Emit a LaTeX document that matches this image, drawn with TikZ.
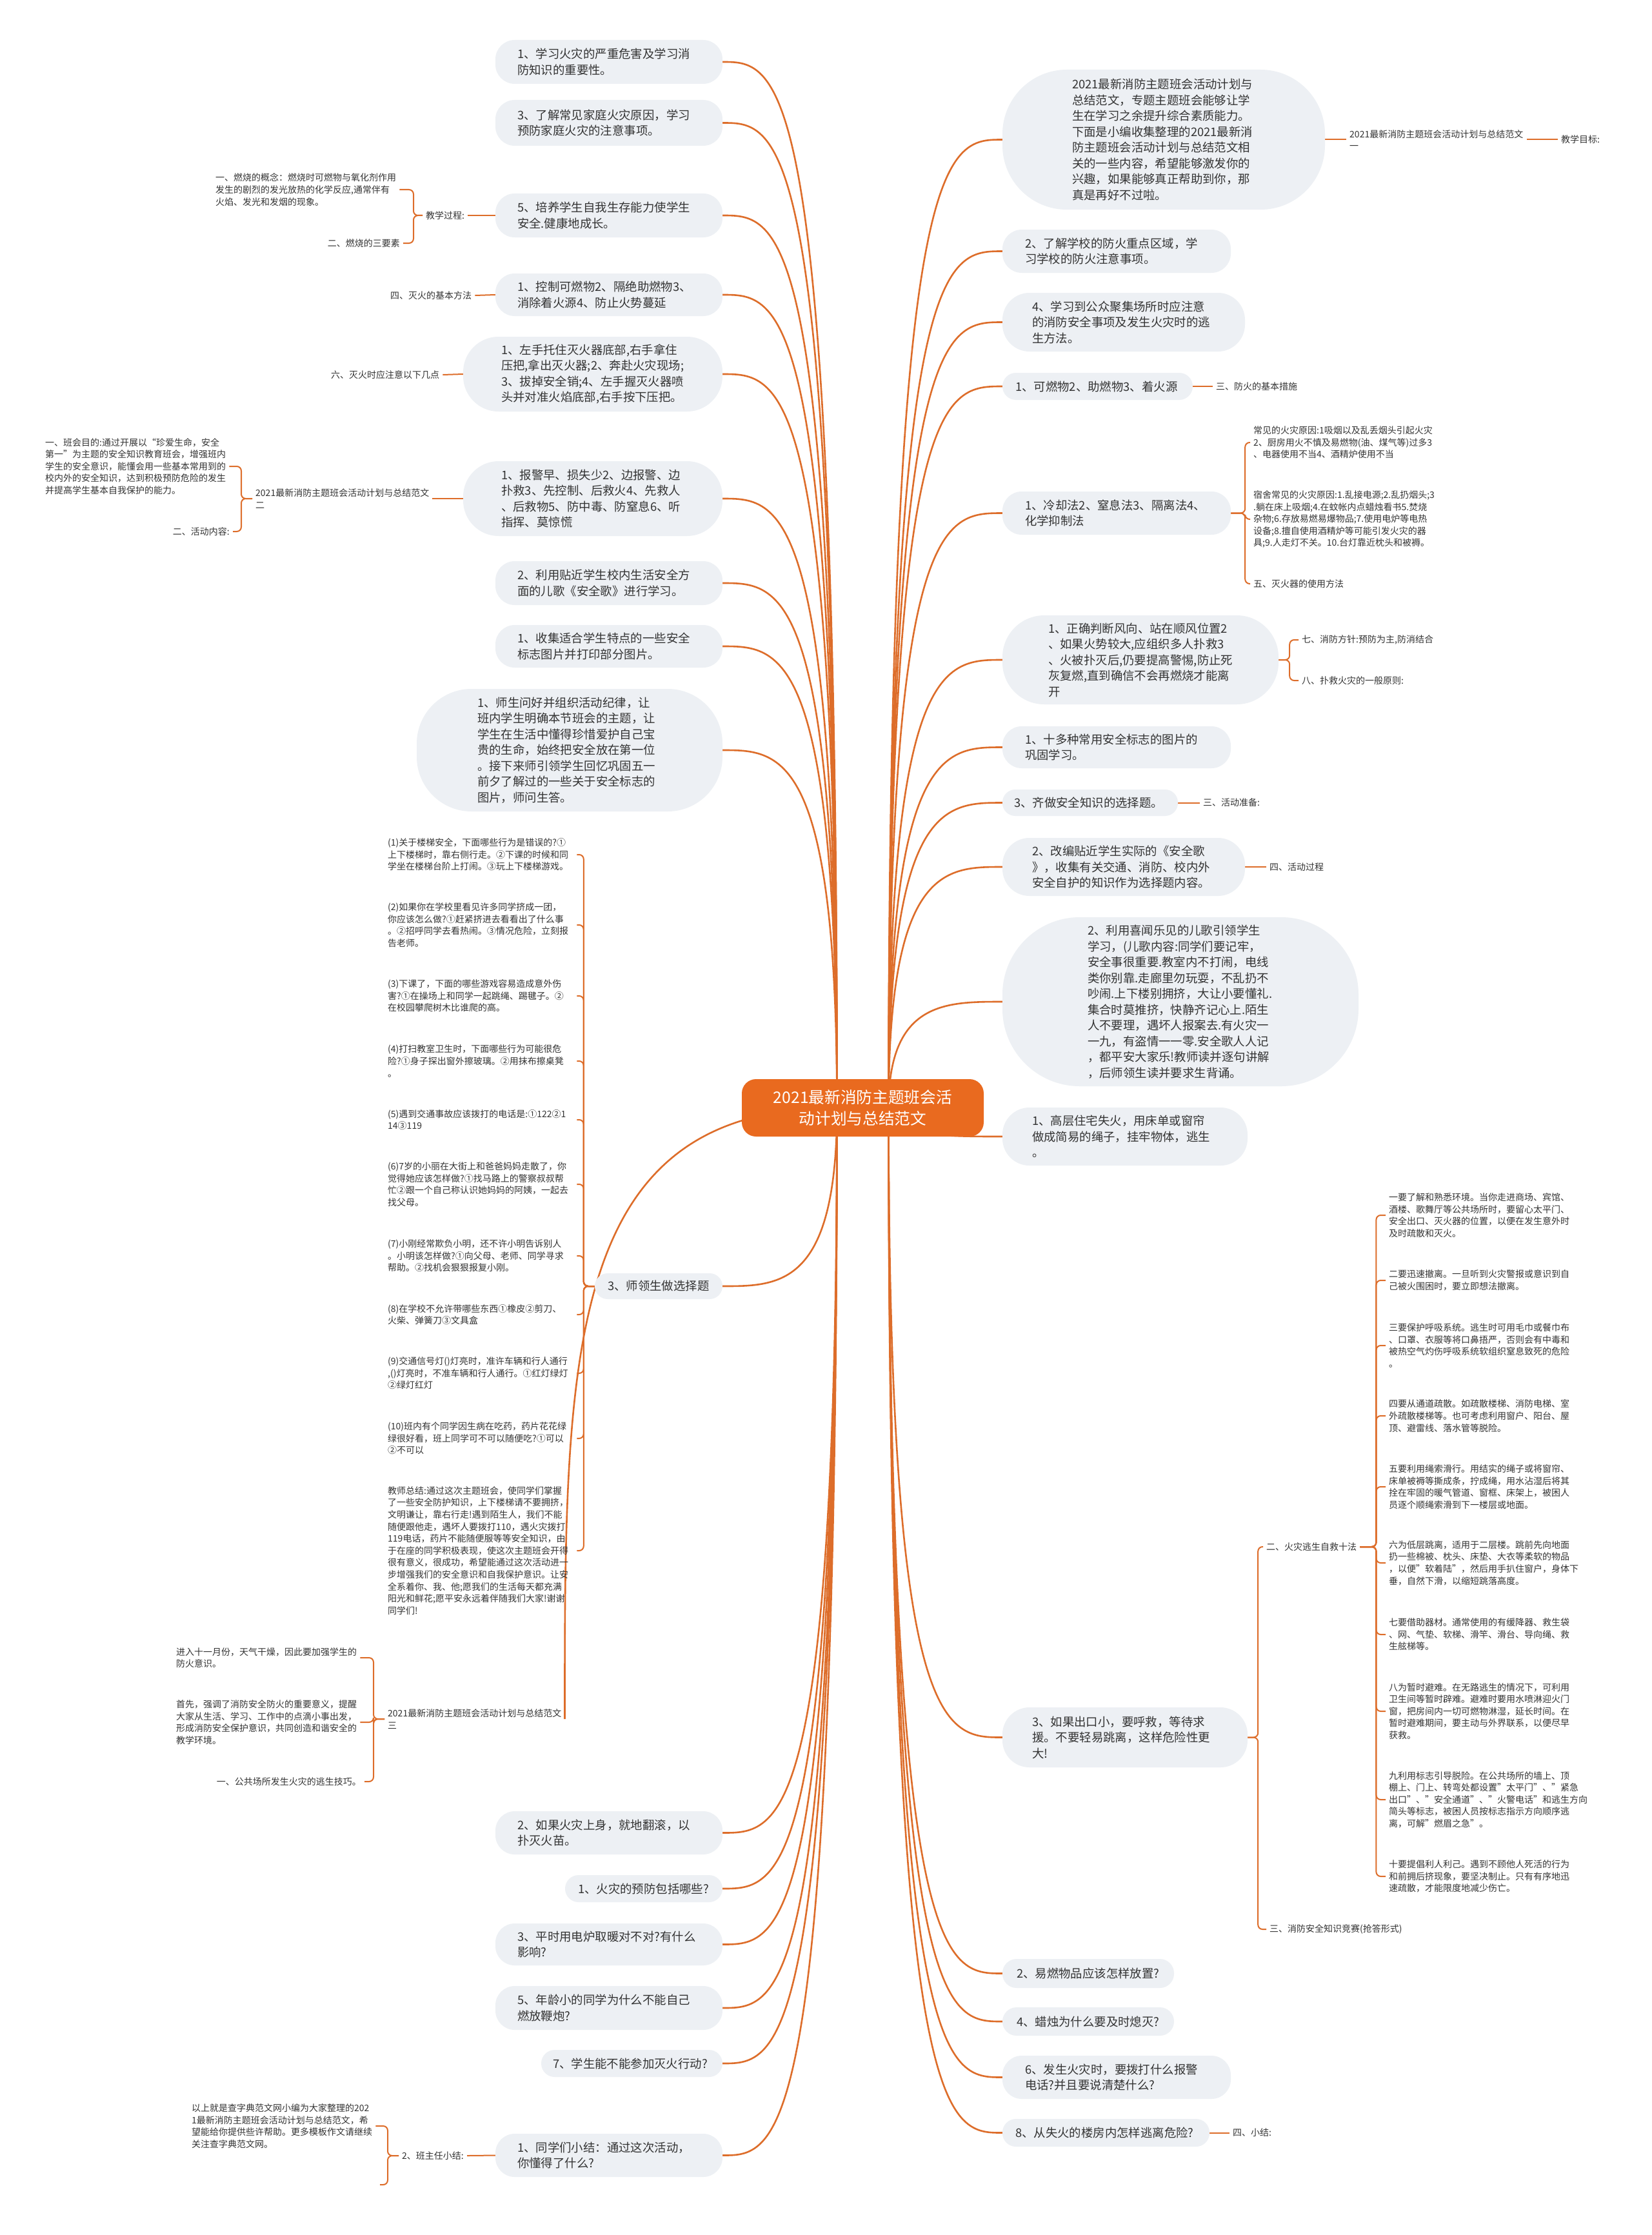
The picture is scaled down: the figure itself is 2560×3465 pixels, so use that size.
\documentclass[tikz,border=0pt]{standalone}
\usepackage{fontspec}
\setmainfont{Noto Sans CJK SC}
\usetikzlibrary{calc}
\definecolor{bubfill}{HTML}{EDF0F4}
\definecolor{lnc}{HTML}{DD6D2A}
\definecolor{rootc}{HTML}{E96A1F}
\definecolor{txt}{HTML}{333333}
\newcommand\fbub{\fontsize{18.4}{24.5}\selectfont}
\newcommand\fsm{\fontsize{14}{18.6}\selectfont}
\newcommand\froot{\fontsize{24.7}{33}\selectfont}
\newcommand\mylink[2]{\draw[conn] (#1) .. controls (#1 |- #2) and ($(#1 |- #2)!0.5!(#2)$) .. (#2);}
\pgfdeclarelayer{bg}
\pgfsetlayers{bg,main}
\tikzset{
  bub/.style={fill=bubfill, rounded corners=#1, align=left, font=\fbub, text=txt, inner ysep=0pt},
  bub/.default=30pt,
  bx/.style n args={4}{minimum width=#1pt, minimum height=#2pt, text width=#3pt, inner xsep=#4pt},
  lab/.style={font=\fsm, text=txt, align=left, inner xsep=5pt, inner ysep=2pt},
  conn/.style={draw=lnc, line width=2.6pt},
  leaf/.style={draw=lnc, line width=2pt, rounded corners=7pt},
  rootn/.style={fill=rootc, rounded corners=22pt, text=white, font=\froot, align=center, minimum width=375pt, minimum height=89pt}
}
\begin{document}
\begin{tikzpicture}[x=1pt,y=-1pt]
\useasboundingbox (0,0) rectangle (2560,3465);

% root
\node[rootn] (root) at (1337.5,1717.5) {2021最新消防主题班会活\\动计划与总结范文};
\coordinate (sL) at ($(root.center)+(-40,0)$);
\coordinate (sR) at ($(root.center)+(40,0)$);

% ---------- left bubbles ----------
\node[bub=30pt, bx={352}{68}{284}{34}] (L1) at (944,96) {1、学习火灾的严重危害及学习消\\防知识的重要性。};
\node[bub=30pt, bx={352}{71}{284}{34}] (L2) at (944,190.5) {3、了解常见家庭火灾原因，学习\\预防家庭火灾的注意事项。};
\node[bub=30pt, bx={352}{68}{284}{34}] (L3) at (944,334) {5、培养学生自我生存能力使学生\\安全.健康地成长。};
\node[bub=30pt, bx={352}{66}{284}{34}] (L4) at (944,457) {1、控制可燃物2、隔绝助燃物3、\\消除着火源4、防止火势蔓延};
\node[bub=55pt, bx={402}{116}{284}{59}] (L5) at (919,580) {1、左手托住灭火器底部,右手拿住\\压把,拿出灭火器;2、奔赴火灾现场;\\3、拔掉安全销;4、左手握灭火器喷\\头并对准火焰底部,右手按下压把。};
\node[bub=55pt, bx={402}{116}{284}{59}] (L6) at (919,773) {1、报警早、损失少2、边报警、边\\扑救3、先控制、后救火4、先救人\\、后救物5、防中毒、防窒息6、听\\指挥、莫惊慌};
\node[bub=30pt, bx={352}{68}{284}{34}] (L7) at (944,904) {2、利用贴近学生校内生活安全方\\面的儿歌《安全歌》进行学习。};
\node[bub=30pt, bx={352}{66}{284}{34}] (L8) at (944,1002) {1、收集适合学生特点的一些安全\\标志图片并打印部分图片。};
\node[bub=85pt, bx={474}{190}{286}{94}] (L9) at (883,1163) {1、师生问好并组织活动纪律，让\\班内学生明确本节班会的主题，让\\学生在生活中懂得珍惜爱护自己宝\\贵的生命，始终把安全放在第一位\\。接下来师引领学生回忆巩固五一\\前夕了解过的一些关于安全标志的\\图片，师问生答。};
\node[bub=20pt, bx={198}{40}{158}{20}] (L10) at (1021,1994) {3、师领生做选择题};
\node[bub=30pt, bx={352}{67}{284}{34}] (L12) at (944,2841.5) {2、如果火灾上身，就地翻滚，以\\扑灭火苗。};
\node[bub=21pt, bx={244}{42}{204}{20}] (L13) at (998,2928) {1、火灾的预防包括哪些?};
\node[bub=30pt, bx={352}{65}{284}{34}] (L14) at (944,3014.5) {3、平时用电炉取暖对不对?有什么\\影响?};
\node[bub=30pt, bx={352}{68}{284}{34}] (L15) at (944,3113) {5、年龄小的同学为什么不能自己\\燃放鞭炮?};
\node[bub=21pt, bx={281}{42}{245}{18}] (L16) at (979.5,3199) {7、学生能不能参加灭火行动?};
\node[bub=30pt, bx={352}{67}{284}{34}] (L17) at (944,3341.5) {1、同学们小结：通过这次活动，\\你懂得了什么?};

% ---------- right bubbles ----------
\node[bub=100pt, bx={500}{217}{284}{108}] (R1) at (1804,216.5) {2021最新消防主题班会活动计划与\\总结范文，专题主题班会能够让学\\生在学习之余提升综合素质能力。\\下面是小编收集整理的2021最新消\\防主题班会活动计划与总结范文相\\关的一些内容，希望能够激发你的\\兴趣，如果能够真正帮助到你，那\\真是再好不过啦。};
\node[bub=30pt, bx={354}{67}{284}{35}] (R2) at (1731,389.5) {2、了解学校的防火重点区域，学\\习学校的防火注意事项。};
\node[bub=42pt, bx={376}{91}{284}{46}] (R3) at (1742,499.5) {4、学习到公众聚集场所时应注意\\的消防安全事项及发生火灾时的逃\\生方法。};
\node[bub=21pt, bx={295}{42}{255}{20}] (R4) at (1701.5,599) {1、可燃物2、助燃物3、着火源};
\node[bub=30pt, bx={354}{67}{284}{35}] (R5) at (1731,795.5) {1、冷却法2、窒息法3、隔离法4、\\化学抑制法};
\node[bub=65pt, bx={428}{138}{286}{71}] (R6) at (1768,1023) {1、正确判断风向、站在顺风位置2\\、如果火势较大,应组织多人扑救3\\、火被扑灭后,仍要提高警惕,防止死\\灰复燃,直到确信不会再燃烧才能离\\开};
\node[bub=30pt, bx={354}{65}{284}{35}] (R7) at (1731,1158.5) {1、十多种常用安全标志的图片的\\巩固学习。};
\node[bub=20pt, bx={272}{41}{236}{18}] (R8) at (1690,1244.5) {3、齐做安全知识的选择题。};
\node[bub=42pt, bx={376}{90}{284}{46}] (R9) at (1742,1344) {2、改编贴近学生实际的《安全歌\\》，收集有关交通、消防、校内外\\安全自护的知识作为选择题内容。};
\node[bub=120pt, bx={552}{262}{288}{132}] (R10) at (1830,1553) {2、利用喜闻乐见的儿歌引领学生\\学习，(儿歌内容:同学们要记牢，\\安全事很重要.教室内不打闹，电线\\类你别靠.走廊里勿玩耍，不乱扔不\\吵闹.上下楼别拥挤，大让小要懂礼.\\集合时莫推挤，快静齐记心上.陌生\\人不要理，遇坏人报案去.有火灾一\\一九，有盗情一一零.安全歌人人记\\，都平安大家乐!教师读并逐句讲解\\，后师领生读并要求生背诵。};
\node[bub=42pt, bx={380}{90}{288}{46}] (R11) at (1744,1762) {1、高层住宅失火，用床单或窗帘\\做成简易的绳子，挂牢物体，逃生\\。};
\node[bub=42pt, bx={380}{93}{288}{46}] (R12) at (1744,2693.5) {3、如果出口小，要呼救，等待求\\援。不要轻易跳离，这样危险性更\\大!};
\node[bub=22pt, bx={266}{45}{222}{22}] (R13) at (1687,3059.5) {2、易燃物品应该怎样放置?};
\node[bub=22pt, bx={266}{44}{222}{22}] (R14) at (1687,3134) {4、蜡烛为什么要及时熄灭?};
\node[bub=30pt, bx={354}{67}{284}{35}] (R15) at (1731,3220.5) {6、发生火灾时，要拨打什么报警\\电话?并且要说清楚什么?};
\node[bub=21pt, bx={321}{43}{281}{20}] (R16) at (1714.5,3306.5) {8、从失火的楼房内怎样逃离危险?};

% ---------- right labels ----------
\node[lab, anchor=west] (R1c) at (2087,216.5) {2021最新消防主题班会活动计划与总结范文\\一};
\node[lab, anchor=west] (R1cc) at (2415,216.5) {教学目标:};
\node[lab, anchor=west] (R4c) at (1880,599) {三、防火的基本措施};
\node[lab, anchor=west] (R5a) at (1938,686) {常见的火灾原因:1吸烟以及乱丢烟头引起火灾\\2、厨房用火不慎及易燃物(油、煤气等)过多3\\、电器使用不当4、酒精炉使用不当};
\node[lab, anchor=west] (R5b) at (1938,805) {宿舍常见的火灾原因:1.乱接电源;2.乱扔烟头;3\\.躺在床上吸烟;4.在蚊帐内点蜡烛看书5.焚烧\\杂物;6.存放易燃易爆物品;7.使用电炉等电热\\设备;8.擅自使用酒精炉等可能引发火灾的器\\具;9.人走灯不关。10.台灯靠近枕头和被褥。};
\node[lab, anchor=west] (R5c) at (1938,905) {五、灭火器的使用方法};
\node[lab, anchor=west] (R6a) at (2013,992) {七、消防方针:预防为主,防消结合};
\node[lab, anchor=west] (R6b) at (2013,1055) {八、扑救火灾的一般原则:};
\node[lab, anchor=west] (R8c) at (1860,1244.5) {三、活动准备:};
\node[lab, anchor=west] (R9c) at (1963,1344) {四、活动过程};
\node[lab, anchor=west] (R12a) at (1958,2398) {二、火灾逃生自救十法};
\node[lab, anchor=west] (R12b) at (1963,2991) {三、消防安全知识竞赛(抢答形式)};
\node[lab, anchor=west] (R16c) at (1906,3306.5) {四、小结:};
\node[lab, anchor=west, text width=292pt] (T1) at (2148,1884) {一要了解和熟悉环境。当你走进商场、宾馆、\\酒楼、歌舞厅等公共场所时，要留心太平门、\\安全出口、灭火器的位置，以便在发生意外时\\及时疏散和灭火。};
\node[lab, anchor=west, text width=292pt] (T2) at (2148,1985) {二要迅速撤离。一旦听到火灾警报或意识到自\\己被火围困时，要立即想法撤离。};
\node[lab, anchor=west, text width=292pt] (T3) at (2148,2086) {三要保护呼吸系统。逃生时可用毛巾或餐巾布\\、口罩、衣服等将口鼻捂严，否则会有中毒和\\被热空气灼伤呼吸系统软组织窒息致死的危险\\。};
\node[lab, anchor=west, text width=292pt] (T4) at (2148,2195) {四要从通道疏散。如疏散楼梯、消防电梯、室\\外疏散楼梯等。也可考虑利用窗户、阳台、屋\\顶、避雷线、落水管等脱险。};
\node[lab, anchor=west, text width=292pt] (T5) at (2148,2305) {五要利用绳索滑行。用结实的绳子或将窗帘、\\床单被褥等撕成条，拧成绳，用水沾湿后将其\\拴在牢固的暖气管道、窗框、床架上，被困人\\员逐个顺绳索滑到下一楼层或地面。};
\node[lab, anchor=west, text width=292pt] (T6) at (2148,2423) {六为低层跳离，适用于二层楼。跳前先向地面\\扔一些棉被、枕头、床垫、大衣等柔软的物品\\，以便"软着陆"，然后用手扒住窗户，身体下\\垂，自然下滑，以缩短跳落高度。};
\node[lab, anchor=west, text width=292pt] (T7) at (2148,2534) {七要借助器材。通常使用的有缓降器、救生袋\\、网、气垫、软梯、滑竿、滑台、导向绳、救\\生舷梯等。};
\node[lab, anchor=west, text width=292pt] (T8) at (2148,2653) {八为暂时避难。在无路逃生的情况下，可利用\\卫生间等暂时辟难。避难时要用水喷淋迎火门\\窗，把房间内一切可燃物淋湿，延长时间。在\\暂时避难期间，要主动与外界联系，以便尽早\\获救。};
\node[lab, anchor=west, text width=292pt] (T9) at (2148,2790) {九利用标志引导脱险。在公共场所的墙上、顶\\棚上、门上、转弯处都设置"太平门"、"紧急\\出口"、"安全通道"、"火警电话"和逃生方向\\简头等标志，被困人员按标志指示方向顺序逃\\离，可解"燃眉之急"。};
\node[lab, anchor=west, text width=292pt] (T10) at (2148,2909) {十要提倡利人利己。遇到不顾他人死活的行为\\和前拥后挤现象，要坚决制止。只有有序地迅\\速疏散，才能限度地减少伤亡。};

% ---------- left labels ----------
\node[lab, anchor=west] (L3c) at (655,334) {教学过程:};
\node[lab, anchor=west] (L3a) at (329,294) {一、燃烧的概念：燃烧时可燃物与氧化剂作用\\发生的剧烈的发光放热的化学反应,通常伴有\\火焰、发光和发烟的现象。};
\node[lab, anchor=east] (L3b) at (625,377) {二、燃烧的三要素};
\node[lab, anchor=west] (L4c) at (600,458) {四、灭火的基本方法};
\node[lab, anchor=west] (L5c) at (508,581) {六、灭火时应注意以下几点};
\node[lab, anchor=west] (L6c) at (391,773) {2021最新消防主题班会活动计划与总结范文\\二};
\node[lab, anchor=west] (L6a) at (65,723) {一、班会目的:通过开展以“珍爱生命，安全\\第一”为主题的安全知识教育班会，增强班内\\学生的安全意识，能懂会用一些基本常用到的\\校内外的安全知识，达到积极预防危险的发生\\并提高学生基本自我保护的能力。};
\node[lab, anchor=east] (L6b) at (361,824) {二、活动内容:};
\node[lab, anchor=west, text width=288pt] (C1) at (596,1325) {(1)关于楼梯安全，下面哪些行为是错误的?①\\上下楼梯时，靠右侧行走。②下课的时候和同\\学坐在楼梯台阶上打闹。③玩上下楼梯游戏。};
\node[lab, anchor=west, text width=288pt] (C2) at (596,1434) {(2)如果你在学校里看见许多同学挤成一团，\\你应该怎么做?①赶紧挤进去看看出了什么事\\。②招呼同学去看热闹。③情况危险，立刻报\\告老师。};
\node[lab, anchor=west, text width=288pt] (C3) at (596,1544) {(3)下课了，下面的哪些游戏容易造成意外伤\\害?①在操场上和同学一起跳绳、踢毽子。②\\在校园攀爬树木比谁爬的高。};
\node[lab, anchor=west, text width=288pt] (C4) at (596,1645) {(4)打扫教室卫生时，下面哪些行为可能很危\\险?①身子探出窗外擦玻璃。②用抹布擦桌凳\\。};
\node[lab, anchor=west, text width=288pt] (C5) at (596,1736) {(5)遇到交通事故应该拨打的电话是:①122②1\\14③119};
\node[lab, anchor=west, text width=288pt] (C6) at (596,1836) {(6)7岁的小丽在大街上和爸爸妈妈走散了，你\\觉得她应该怎样做?①找马路上的警察叔叔帮\\忙②跟一个自己称认识她妈妈的阿姨，一起去\\找父母。};
\node[lab, anchor=west, text width=288pt] (C7) at (596,1947) {(7)小刚经常欺负小明，还不许小明告诉别人\\。小明该怎样做?①向父母、老师、同学寻求\\帮助。②找机会狠狠报复小刚。};
\node[lab, anchor=west, text width=288pt] (C8) at (596,2038) {(8)在学校不允许带哪些东西①橡皮②剪刀、\\火柴、弹簧刀③文具盒};
\node[lab, anchor=west, text width=288pt] (C9) at (596,2129) {(9)交通信号灯()灯亮时，准许车辆和行人通行\\,()灯亮时，不准车辆和行人通行。①红灯绿灯\\②绿灯红灯};
\node[lab, anchor=west, text width=288pt] (C10) at (596,2230) {(10)班内有个同学因生病在吃药，药片花花绿\\绿很好看，班上同学可不可以随便吃?①可以\\②不可以};
\node[lab, anchor=west, text width=288pt] (C11) at (596,2404) {教师总结:通过这次主题班会，使同学们掌握\\了一些安全防护知识，上下楼梯请不要拥挤，\\文明谦让，靠右行走!遇到陌生人，我们不能\\随便跟他走，遇坏人要拨打110，遇火灾拨打\\119电话，药片不能随便服等等安全知识，由\\于在座的同学积极表现，使这次主题班会开得\\很有意义，很成功，希望能通过这次活动进一\\步增强我们的安全意识和自我保护意识。让安\\全系着你、我、他;愿我们的生活每天都充满\\阳光和鲜花;愿平安永远着伴随我们大家!谢谢\\同学们!};
\node[lab, anchor=west] (L11) at (596,2665) {2021最新消防主题班会活动计划与总结范文\\三};
\node[lab, anchor=west] (L11a) at (268,2570) {进入十一月份，天气干燥，因此要加强学生的\\防火意识。};
\node[lab, anchor=west] (L11b) at (268,2670) {首先，强调了消防安全防火的重要意义，提醒\\大家从生活、学习、工作中的点滴小事出发，\\形成消防安全保护意识，共同创造和谐安全的\\教学环境。};
\node[lab, anchor=east] (L11c) at (565,2762) {一、公共场所发生火灾的逃生技巧。};
\node[lab, anchor=west] (L17c) at (618,3342) {2、班主任小结:};
\node[lab, anchor=west] (L17a) at (292,3296) {以上就是查字典范文网小编为大家整理的202\\1最新消防主题班会活动计划与总结范文，希\\望能给你提供些许帮助。更多模板作文请继续\\关注查字典范文网。};
\coordinate (L17z) at (589,3387);

% ---------- connectors ----------
\begin{pgfonlayer}{bg}
\fill[white] (0,0) rectangle (2560,3465);
\foreach \n in {L1,L2,L3,L4,L5,L6,L7,L8,L9,L10,L12,L13,L14,L15,L16,L17} {\mylink{sL}{\n.east}}
\foreach \n in {R1,R2,R3,R4,R5,R6,R7,R8,R9,R10,R11,R12,R13,R14,R15,R16} {\mylink{sR}{\n.west}}
\draw[conn] (sL) .. controls (L11.east |- sL) and ($(L11.east)!0.6!(L11.east |- sL)$) .. (L11.east);

% left children
\draw[leaf] (L3.west) -- (L3c.east);
\draw[leaf] (L3c.west) -- ++(-14,0) |- (L3a.east);
\draw[leaf] (L3c.west) -- ++(-14,0) |- (L3b.east);
\draw[leaf] (L4.west) -- (L4c.east);
\draw[leaf] (L5.west) -- (L5c.east);
\draw[leaf] (L6.west) -- (L6c.east);
\draw[leaf] (L6c.west) -- ++(-17,0) |- (L6a.east);
\draw[leaf] (L6c.west) -- ++(-17,0) |- (L6b.east);
\foreach \c in {C1,C2,C3,C4,C5,C6,C7,C8,C9,C10,C11} {\draw[leaf] (L10.west) -- ++(-17,0) |- (\c.east);}
\foreach \c in {L11a,L11b,L11c} {\draw[leaf] (L11.west) -- ++(-17,0) |- (\c.east);}
\draw[leaf] (L17.west) -- (L17c.east);
\draw[leaf] (L17c.west) -- ++(-17,0) |- (L17a.east);
\draw[leaf] (L17c.west) -- ++(-17,0) |- (L17z);

% right children
\draw[leaf] (R1.east) -- (R1c.west);
\draw[leaf] (R1c.east) -- (R1cc.west);
\draw[leaf] (R4.east) -- (R4c.west);
\foreach \c in {R5a,R5b,R5c} {\draw[leaf] (R5.east) -- ++(22,0) |- (\c.west);}
\foreach \c in {R6a,R6b} {\draw[leaf] (R6.east) -- ++(17,0) |- (\c.west);}
\draw[leaf] (R8.east) -- (R8c.west);
\draw[leaf] (R9.east) -- (R9c.west);
\foreach \c in {R12a,R12b} {\draw[leaf] (R12.east) -- ++(16,0) |- (\c.west);}
\foreach \c in {T1,T2,T3,T4,T5,T6,T7,T8,T9,T10} {\draw[leaf] (R12a.east) -- ++(25,0) |- (\c.west);}
\draw[leaf] (R16.east) -- (R16c.west);
\end{pgfonlayer}
\end{tikzpicture}
\end{document}
